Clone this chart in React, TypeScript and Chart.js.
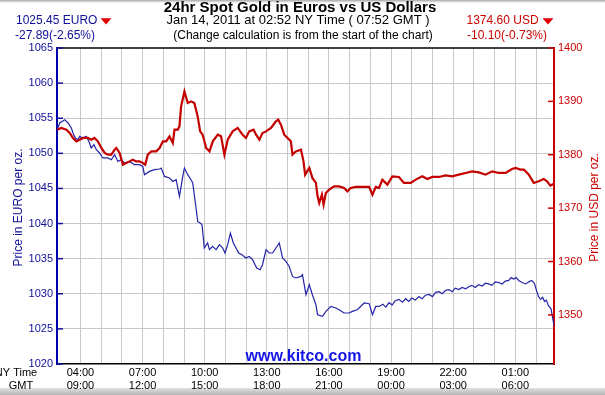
import React, { useEffect, useRef } from 'react';
import { Chart, registerables } from 'chart.js';

Chart.register(...registerables);

const FONT = '"Liberation Sans", Arial, Helvetica, sans-serif';

// Time in hours since 00:00 NY time (Jan 13, 2011)
const EUR_TIMES = [
  2.87, 3.00, 3.24, 3.40, 3.56, 3.64, 3.75, 3.88, 3.96, 4.12,
  4.28, 4.44, 4.52, 4.65, 4.77, 4.92, 5.08, 5.32, 5.49, 5.65,
  5.81, 5.97, 6.13, 6.37, 6.61, 6.85, 7.01, 7.09, 7.33, 7.58,
  7.82, 7.90, 8.06, 8.30, 8.46, 8.62, 8.78, 8.94, 9.02, 9.18,
  9.34, 9.42, 9.55, 9.66, 9.78, 9.87, 9.98, 10.14, 10.23, 10.38,
  10.55, 10.71, 10.87, 10.98, 11.11, 11.24, 11.38, 11.51, 11.64, 11.80,
  11.99, 12.15, 12.31, 12.51, 12.68, 12.79, 12.96, 13.12, 13.28, 13.44,
  13.60, 13.76, 13.92, 14.08, 14.24, 14.40, 14.65, 14.72, 14.89, 15.05,
  15.20, 15.37, 15.45, 15.69, 15.85, 16.09, 16.33, 16.49, 16.73, 16.97,
  17.13, 17.37, 17.70, 17.94, 18.10, 18.26, 18.42, 18.60, 18.75, 18.90,
  19.05, 19.20, 19.38, 19.55, 19.70, 19.86, 20.00, 20.17, 20.34, 20.50,
  20.66, 20.83, 21.00, 21.15, 21.31, 21.47, 21.63, 21.79, 21.95, 22.10,
  22.27, 22.43, 22.60, 22.75, 22.90, 23.07, 23.23, 23.40, 23.55, 23.71,
  23.87, 24.03, 24.20, 24.36, 24.52, 24.68, 24.80, 24.92, 25.04, 25.16,
  25.33, 25.50, 25.65, 25.79, 25.92, 26.03, 26.12, 26.22, 26.32, 26.41,
  26.50, 26.60, 26.72, 26.87,
];
const EUR_VALUES = [
  1053.34, 1054.32, 1054.79, 1054.32, 1053.61, 1052.90, 1052.18, 1051.94, 1052.41, 1052.18,
  1052.41, 1051.47, 1050.76, 1051.23, 1050.52, 1050.05, 1049.34, 1049.34, 1049.09, 1049.81,
  1048.85, 1049.09, 1048.62, 1048.85, 1048.38, 1048.38, 1048.14, 1046.96, 1047.43, 1047.67,
  1047.77, 1047.91, 1046.71, 1046.49, 1046.00, 1046.24, 1043.87, 1046.71, 1047.91, 1046.96,
  1046.24, 1045.77, 1042.93, 1040.31, 1040.08, 1039.84, 1036.52, 1037.23, 1036.28, 1036.75,
  1036.28, 1036.99, 1036.52, 1035.81, 1036.99, 1038.65, 1037.23, 1036.52, 1035.81, 1035.56,
  1035.09, 1035.32, 1034.85, 1033.67, 1033.43, 1034.14, 1036.28, 1035.81, 1035.81, 1036.52,
  1037.23, 1035.09, 1034.61, 1033.90, 1032.47, 1032.25, 1032.47, 1032.72, 1029.87, 1031.29,
  1029.87, 1028.44, 1027.02, 1026.78, 1027.49, 1028.20, 1027.97, 1027.73, 1027.26, 1027.26,
  1027.49, 1027.73, 1028.69, 1028.59, 1027.02, 1028.20, 1028.20, 1028.50, 1028.10, 1028.73,
  1028.40, 1029.00, 1029.20, 1028.80, 1029.30, 1028.90, 1029.40, 1029.10, 1029.60, 1029.30,
  1029.80, 1029.90, 1029.60, 1030.20, 1030.30, 1030.00, 1030.50, 1030.60, 1030.30, 1030.80,
  1030.60, 1030.90, 1030.70, 1031.00, 1031.20, 1030.90, 1031.30, 1031.10, 1031.50, 1031.40,
  1031.20, 1031.70, 1031.60, 1031.40, 1031.80, 1031.90, 1032.30, 1032.10, 1032.30, 1031.90,
  1031.60, 1031.40, 1031.70, 1031.90, 1031.50, 1030.40, 1029.60, 1029.20, 1029.50, 1028.90,
  1029.10, 1028.30, 1027.90, 1025.45,
];

const USD_TIMES = [
  2.87, 3.08, 3.32, 3.48, 3.64, 3.80, 3.96, 4.12, 4.36, 4.52,
  4.68, 4.84, 5.01, 5.17, 5.33, 5.49, 5.65, 5.73, 5.89, 6.05,
  6.21, 6.37, 6.53, 6.69, 6.85, 7.01, 7.13, 7.25, 7.42, 7.66,
  7.82, 7.98, 8.14, 8.30, 8.46, 8.54, 8.70, 8.78, 8.86, 9.02,
  9.18, 9.34, 9.50, 9.66, 9.78, 9.90, 10.07, 10.23, 10.39, 10.63,
  10.79, 10.95, 11.11, 11.35, 11.59, 11.83, 11.99, 12.15, 12.36, 12.48,
  12.64, 12.79, 12.96, 13.20, 13.44, 13.55, 13.68, 13.84, 14.00, 14.16,
  14.24, 14.40, 14.65, 14.77, 14.85, 15.05, 15.20, 15.37, 15.45, 15.53,
  15.66, 15.74, 15.85, 16.01, 16.25, 16.49, 16.73, 16.89, 17.05, 17.30,
  17.61, 17.94, 18.10, 18.26, 18.42, 18.58, 18.82, 19.06, 19.38, 19.62,
  19.95, 20.19, 20.51, 20.75, 20.99, 21.31, 21.63, 21.95, 22.27, 22.60,
  22.91, 23.24, 23.56, 23.88, 24.20, 24.53, 24.84, 25.01, 25.25, 25.41,
  25.65, 25.89, 26.13, 26.37, 26.53, 26.69, 26.87,
];
const USD_VALUES = [
  1384.70, 1385.02, 1384.70, 1384.08, 1383.15, 1382.51, 1382.83, 1383.15, 1383.15, 1382.83,
  1383.15, 1382.51, 1381.27, 1380.34, 1380.02, 1380.02, 1380.96, 1381.27, 1380.34, 1378.15,
  1378.46, 1378.76, 1379.08, 1378.76, 1378.76, 1378.46, 1378.15, 1380.02, 1380.64, 1380.64,
  1381.27, 1382.51, 1382.51, 1383.45, 1382.21, 1384.70, 1384.70, 1385.32, 1389.06, 1391.87,
  1389.70, 1390.00, 1389.70, 1387.19, 1384.38, 1383.76, 1381.27, 1380.64, 1382.51, 1383.76,
  1383.45, 1380.02, 1382.83, 1384.38, 1385.02, 1383.76, 1383.15, 1384.38, 1384.70, 1383.76,
  1382.83, 1384.08, 1384.38, 1385.02, 1386.25, 1386.57, 1385.64, 1383.76, 1383.15, 1382.51,
  1380.02, 1380.64, 1380.96, 1378.76, 1376.27, 1377.53, 1375.66, 1374.72, 1372.21, 1370.97,
  1372.53, 1370.66, 1372.85, 1373.46, 1374.08, 1374.08, 1373.78, 1373.15, 1373.78, 1373.97,
  1373.97, 1373.97, 1372.53, 1373.97, 1373.78, 1375.34, 1374.40, 1375.96, 1375.84, 1374.72,
  1374.72, 1375.34, 1375.96, 1375.47, 1375.84, 1375.84, 1376.14, 1375.96, 1376.27, 1376.59,
  1376.89, 1376.70, 1376.27, 1376.89, 1376.59, 1376.59, 1377.34, 1377.53, 1377.22, 1377.22,
  1376.27, 1374.72, 1375.02, 1375.47, 1375.02, 1374.21, 1374.60,
];

const LABEL_HOURS = [4, 7, 10, 13, 16, 19, 22, 25];
const NY_LABELS = ['04:00', '07:00', '10:00', '13:00', '16:00', '19:00', '22:00', '01:00'];
const GMT_LABELS = ['09:00', '12:00', '15:00', '18:00', '21:00', '00:00', '03:00', '06:00'];
const GRID_HOURS = [4, 5, 6, 7, 8, 9, 10, 11, 12, 13, 14, 15, 16, 17, 18, 19, 20, 21, 22, 23, 24, 25, 26];
const USD_TICKS = [1350, 1360, 1370, 1380, 1390, 1400];

const X_MIN = 2.867;
const X_MAX = 26.867;
const EUR_MIN = 1020;
const EUR_MAX = 1065;
const USD_MIN = 1340.8;
const USD_MAX = 1400;

const TITLE = '24hr Spot Gold in Euros vs US Dollars';
const SUB1 = 'Jan 14, 2011 at 02:52 NY Time ( 07:52 GMT )';
const SUB2 = '(Change calculation is from the start of the chart)';
const EUR_PRICE = '1025.45 EURO';
const EUR_CHANGE = '-27.89(-2.65%)';
const USD_PRICE = '1374.60 USD';
const USD_CHANGE = '-10.10(-0.73%)';

const NAVY = '#10109a';
const BLUE_LINE = '#2424a8';
const RED = '#cc0000';
const RED_LINE = '#c40000';
const GRID = '#c8c8c8';

const decor = {
  id: 'decor',
  beforeDraw(chart: any) {
    const { ctx, width, height } = chart;
    ctx.save();
    ctx.fillStyle = '#ffffff';
    ctx.fillRect(0, 0, width, height);
    let g = ctx.createLinearGradient(0, 0, 0, 3);
    g.addColorStop(0, '#a8a8a8');
    g.addColorStop(1, '#ffffff');
    ctx.fillStyle = g;
    ctx.fillRect(0, 0, width, 3);
    g = ctx.createLinearGradient(0, 388, 0, height);
    g.addColorStop(0, '#e2e2e2');
    g.addColorStop(1, '#b4b4b4');
    ctx.fillStyle = g;
    ctx.fillRect(0, 388, width, height - 388);
    ctx.restore();
  },
  beforeDatasetsDraw(chart: any) {
    const { ctx, chartArea } = chart;
    ctx.save();
    ctx.fillStyle = '#1414e6';
    ctx.font = `bold 16px ${FONT}`;
    ctx.textAlign = 'center';
    ctx.textBaseline = 'middle';
    ctx.fillText('www.kitco.com', (chartArea.left + chartArea.right) / 2 - 2, chartArea.bottom - 7);
    ctx.restore();
  },
  afterDraw(chart: any) {
    const { ctx, chartArea } = chart;
    const yL = chart.scales.y;
    const yR = chart.scales.y1;
    ctx.save();
    // top border
    ctx.strokeStyle = '#000';
    ctx.lineWidth = 1.5;
    ctx.beginPath();
    ctx.moveTo(chartArea.left, chartArea.top);
    ctx.lineTo(chartArea.right, chartArea.top);
    ctx.stroke();
    // inner ticks
    ctx.lineWidth = 1.5;
    ctx.strokeStyle = NAVY;
    yL.ticks.forEach((t: any) => {
      const p = yL.getPixelForValue(t.value);
      ctx.beginPath();
      ctx.moveTo(chartArea.left, p);
      ctx.lineTo(chartArea.left + 6, p);
      ctx.stroke();
    });
    ctx.strokeStyle = RED;
    yR.ticks.forEach((t: any) => {
      const p = yR.getPixelForValue(t.value);
      ctx.beginPath();
      ctx.moveTo(chartArea.right - 6, p);
      ctx.lineTo(chartArea.right, p);
      ctx.stroke();
    });

    // titles
    ctx.textBaseline = 'middle';
    ctx.textAlign = 'center';
    ctx.fillStyle = '#000';
    ctx.font = `bold 15px ${FONT}`;
    ctx.fillText(TITLE, 300, 8);
    ctx.font = `13px ${FONT}`;
    ctx.fillText(SUB1, 298, 20.5);
    ctx.font = `12px ${FONT}`;
    ctx.fillText(SUB2, 303, 36);

    // headers
    ctx.textAlign = 'left';
    ctx.font = `12px ${FONT}`;
    ctx.fillStyle = NAVY;
    ctx.fillText(EUR_PRICE, 16, 20.5);
    ctx.fillText(EUR_CHANGE, 15, 35.5);
    ctx.fillStyle = RED;
    ctx.fillText(USD_PRICE, 466.5, 20.5);
    ctx.fillText(USD_CHANGE, 467, 35.5);

    // triangles
    ctx.fillStyle = '#e00000';
    const tri = (x0: number) => {
      ctx.beginPath();
      ctx.moveTo(x0, 18.3);
      ctx.lineTo(x0 + 11, 18.3);
      ctx.lineTo(x0 + 5.5, 24.5);
      ctx.closePath();
      ctx.fill();
    };
    tri(100.5);
    tri(542.5);

    // axis titles
    const midY = (chartArea.top + chartArea.bottom) / 2 + 1.5;
    ctx.textAlign = 'center';
    ctx.font = `12px ${FONT}`;
    ctx.save();
    ctx.translate(18.5, midY);
    ctx.rotate(-Math.PI / 2);
    ctx.fillStyle = NAVY;
    ctx.fillText('Price in EURO per oz.', 0, 0);
    ctx.restore();
    ctx.save();
    ctx.translate(594.5, midY);
    ctx.rotate(-Math.PI / 2);
    ctx.fillStyle = RED;
    ctx.fillText('Price in USD per oz.', 0, 0);
    ctx.restore();

    // time zone labels
    ctx.fillStyle = '#000';
    ctx.font = `11px ${FONT}`;
    ctx.fillText('NY Time', 16, 373);
    ctx.fillText('GMT', 21, 386);
    ctx.restore();
  },
};

export default function App() {
  const ref = useRef<HTMLCanvasElement>(null);
  useEffect(() => {
    const eur = EUR_TIMES.map((t, i) => ({ x: t, y: EUR_VALUES[i] }));
    const usd = USD_TIMES.map((t, i) => ({ x: t, y: USD_VALUES[i] }));
    const chart = new Chart(ref.current as HTMLCanvasElement, {
      type: 'line',
      data: {
        datasets: [
          {
            label: 'USD',
            data: usd,
            yAxisID: 'y1',
            borderColor: RED_LINE,
            borderWidth: 2.2,
            pointRadius: 0,
            tension: 0,
            fill: false,
          },
          {
            label: 'EURO',
            data: eur,
            yAxisID: 'y',
            borderColor: BLUE_LINE,
            borderWidth: 1.2,
            pointRadius: 0,
            tension: 0,
            fill: false,
          },
        ],
      },
      options: {
        responsive: false,
        devicePixelRatio: 1,
        animation: false,
        events: [],
        layout: { padding: { top: 48, left: 0, right: 0, bottom: 0 } },
        plugins: { legend: { display: false }, tooltip: { enabled: false }, title: { display: false } },
        scales: {
          x: {
            type: 'linear',
            min: X_MIN,
            max: X_MAX,
            afterBuildTicks: (s: any) => {
              s.ticks = GRID_HOURS.map((v) => ({ value: v }));
            },
            afterFit: (s: any) => {
              s.height = 31;
            },
            ticks: {
              autoSkip: false,
              maxRotation: 0,
              padding: 2.5,
              color: '#000',
              font: { family: FONT, size: 11, lineHeight: '13px' },
              callback: (v: any) => {
                const i = LABEL_HOURS.indexOf(Number(v));
                return i >= 0 ? [NY_LABELS[i], GMT_LABELS[i]] : '';
              },
            },
            grid: { color: GRID, lineWidth: 1, drawTicks: false },
            border: { color: '#000', width: 1.5 },
          },
          y: {
            position: 'left',
            min: EUR_MIN,
            max: EUR_MAX,
            afterFit: (s: any) => {
              s.width = 57;
            },
            ticks: {
              stepSize: 5,
              padding: 4,
              color: NAVY,
              font: { family: FONT, size: 11 },
              callback: (v: any) => String(v),
            },
            grid: {
              drawTicks: false,
              lineWidth: 1,
              color: (c: any) =>
                c.tick && (c.tick.value === EUR_MIN || c.tick.value === EUR_MAX) ? 'rgba(0,0,0,0)' : GRID,
            },
            border: { color: '#0000aa', width: 2 },
          },
          y1: {
            position: 'right',
            min: USD_MIN,
            max: USD_MAX,
            afterBuildTicks: (s: any) => {
              s.ticks = USD_TICKS.map((v) => ({ value: v }));
            },
            afterFit: (s: any) => {
              s.width = 51;
            },
            ticks: {
              padding: 4,
              color: RED,
              font: { family: FONT, size: 11 },
              callback: (v: any) => String(v),
            },
            grid: { drawOnChartArea: false, drawTicks: false },
            border: { color: RED, width: 2 },
          },
        },
      },
      plugins: [decor],
    } as any);
    return () => chart.destroy();
  }, []);
  return (
    <div style={{ position: 'fixed', left: 0, top: 0, width: 605, height: 395 }}>
      <canvas ref={ref} width={605} height={395} style={{ display: 'block', width: 605, height: 395 }} />
    </div>
  );
}
